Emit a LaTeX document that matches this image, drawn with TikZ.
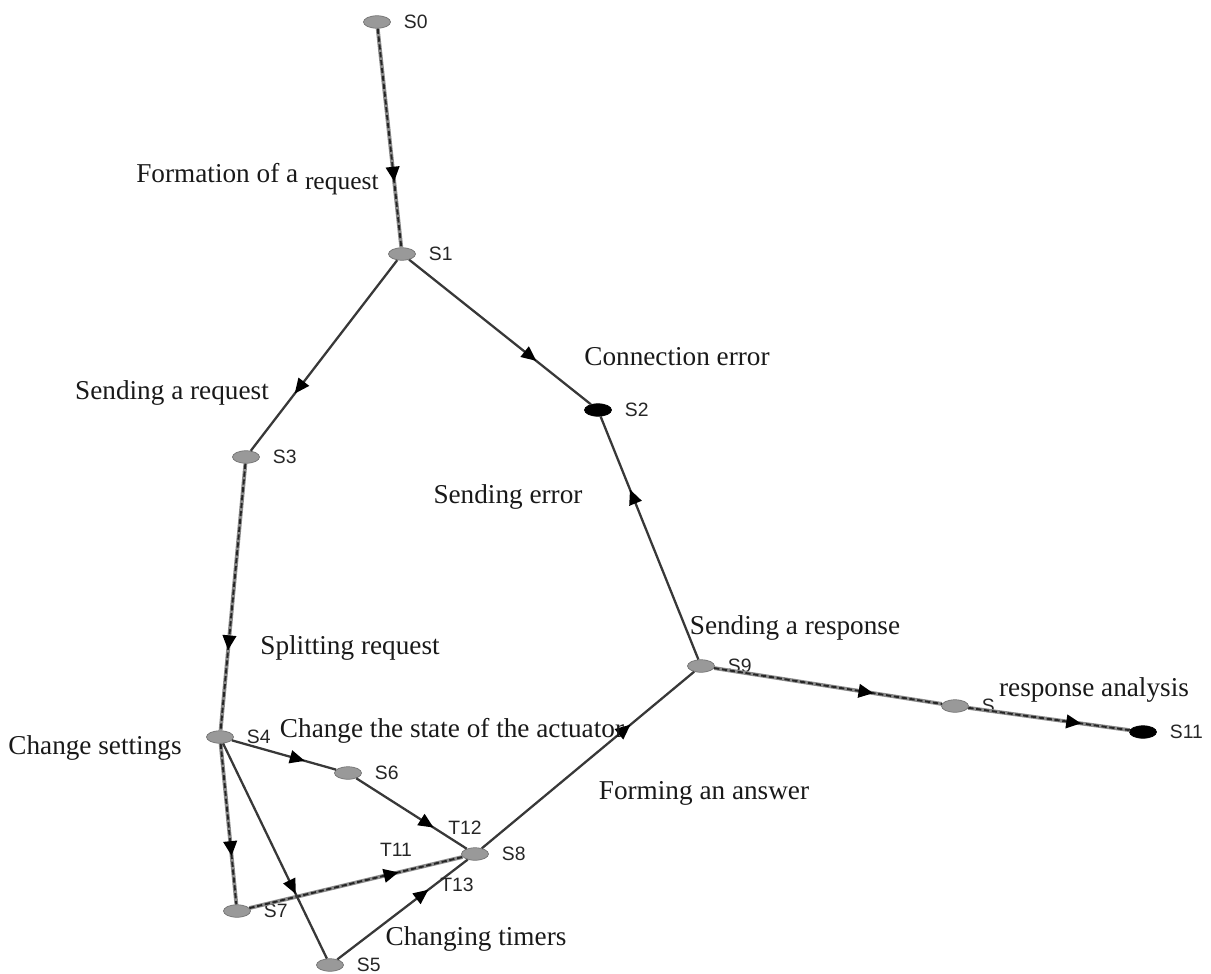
\documentclass[tikz,border=0pt]{standalone}
\usepackage{fontspec}
\setmainfont{Liberation Serif}
\newfontfamily\statefont{Liberation Sans}
\usetikzlibrary{shapes.geometric, arrows.meta, decorations.markings}

\begin{document}
\begin{tikzpicture}[x=0.02cm, y=-0.02cm,
		every label/.style = {font=\statefont\fontsize{11}{13}\selectfont, text=black!85, inner sep=1pt, xshift=2.2mm},
		main/.style = {draw=black!55, fill=black!40, thin, ellipse, minimum width=5.4mm, minimum height=2.5mm, inner sep=0pt},
		final/.style = {main, draw=black, fill=black},
		txt/.style = {font=\fontsize{15.5}{18}\selectfont, text=black!90, inner sep=0pt},
		tlbl/.style = {font=\statefont\fontsize{11}{13}\selectfont, text=black!85, inner sep=0pt},
		flow/.style = {postaction={decorate}, decoration={markings, mark=at position 0.7 with {\arrow[black]{Triangle[length=3mm, width=2.6mm]}}}},
		edge/.style = {draw=black!78, line width=1.3pt, flow},
		rough/.style = {draw=black!45, line width=2.2pt, postaction={draw=black!85, line width=1.1pt, dash pattern=on 3pt off 1.5pt}, flow}]
		\useasboundingbox (0,0) rectangle (1211,974);
		% states
		\node [main, label=right:S0] (s0) at (377, 22) {};
		\node [main, label=right:S1] (s1) at (402, 254) {};
		\node [final, label=right:S2] (s2) at (598, 410) {};
		\node [main, label=right:S3] (s3) at (246, 457) {};
		\node [main, label=right:S4] (s4) at (220, 737) {};
		\node [main, label=right:S5] (s5) at (330, 965) {};
		\node [main, label=right:S6] (s6) at (348, 773) {};
		\node [main, label=right:S7] (s7) at (237, 911) {};
		\node [main, label=right:S8] (s8) at (475, 854) {};
		\node [main, label=right:S9] (s9) at (701, 666) {};
		\node [main, label=right:S] (s10) at (955, 706) {};
		\node [final, label=right:S11] (s11) at (1143, 732) {};
		% transitions
		\draw [rough] (s0) to (s1);
		\draw [edge] (s1) to (s3);
		\draw [edge] (s1) to (s2);
		\draw [edge] (s9) to (s2);
		\draw [rough] (s3) to (s4);
		\draw [edge] (s4) to (s6);
		\draw [edge] (s6) to (s8);
		\draw [rough] (s4) to (s7);
		\draw [rough] (s7) to (s8);
		\draw [edge] (s4) to (s5);
		\draw [edge] (s5) to (s8);
		\draw [edge] (s8) to (s9);
		\draw [rough] (s9) to (s10);
		\draw [rough] (s10) to (s11);
		% labels
		\node [txt, anchor=west] (formation) at (136, 179) {Formation of a \raisebox{-0.6ex}{\fontsize{14.5}{16}\selectfont request}};
		\node [txt] (conn) at (677, 357) {Connection error};
		\node [txt] (sendreq) at (172, 393) {Sending a request};
		\node [txt] (senderr) at (508, 497) {Sending error};
		\node [txt] (split) at (350, 648) {Splitting request};
		\node [txt] (sendresp) at (795, 628) {Sending a response};
		\node [txt] (analysis) at (1094, 690) {response analysis};
		\node [txt] (settings) at (95, 748) {Change settings};
		\node [txt] (actuator) at (452, 731) {Change the state of the actuator};
		\node [txt] (answer) at (704, 793) {Forming an answer};
		\node [txt] (timers) at (476, 939) {Changing timers};
		\node [tlbl] (t11) at (396, 850) {T11};
		\node [tlbl] (t12) at (465, 828) {T12};
		\node [tlbl] (t13) at (457, 885) {T13};
\end{tikzpicture}
\end{document}
